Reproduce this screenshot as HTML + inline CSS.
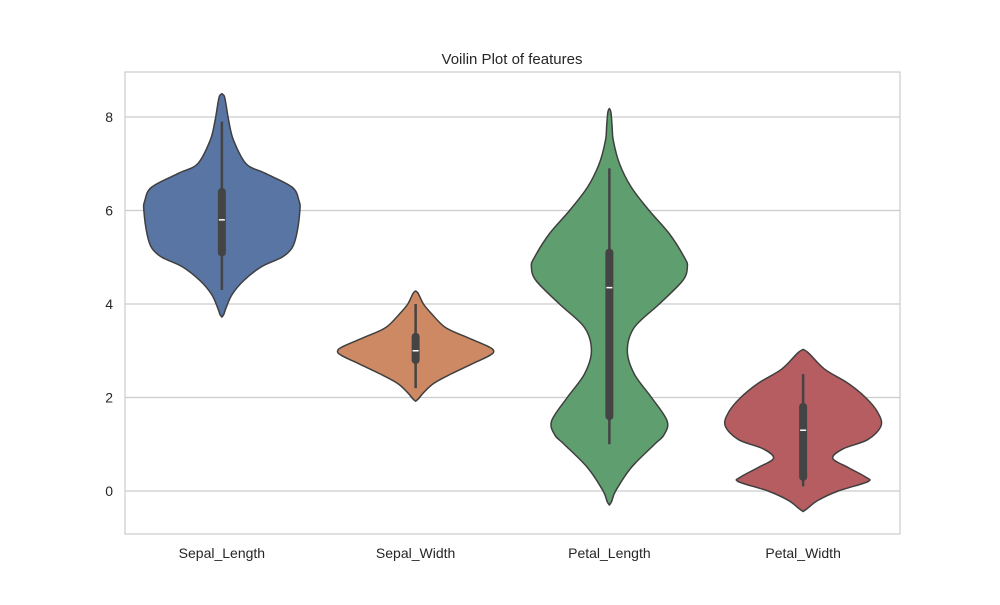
<!DOCTYPE html>
<html><head><meta charset="utf-8"><style>
body{margin:0;background:#fff}
svg text{font-family:"Liberation Sans",Arial,sans-serif;fill:#262626}
</style></head><body>
<svg id="chart" width="1000" height="600">
<rect x="0" y="0" width="1000" height="600" fill="#fff"/>
<g id="grid"></g>
<g id="violins"></g>
<rect x="125" y="72" width="775" height="462" fill="none" stroke="#cccccc" stroke-width="1.2"/>
<text x="512" y="64" font-size="15" text-anchor="middle">Voilin Plot of features</text>
<g id="yticks"></g>
<g id="xticks"></g>
</svg>
<script>
const categories=["Sepal_Length","Sepal_Width","Petal_Length","Petal_Width"];
const colors=["#5875a4","#cc8963","#5f9e6e","#b55d60"];
const yTicks=[0,2,4,6,8];
// density profiles: value levels and relative half-widths (0..1)
const levels0=[8.5,8.45,8.3,7.9,7.5,7.0,6.8,6.5,6.2,6.0,5.5,5.2,5.0,4.8,4.5,4.2,3.9,3.78,3.72];
const dens0=[0,0.03,0.05,0.09,0.15,0.31,0.55,0.9,0.99,1.0,0.96,0.9,0.77,0.51,0.28,0.13,0.05,0.025,0];
const levels1=[4.28,4.22,4.0,3.8,3.5,3.3,3.1,3.0,2.9,2.7,2.5,2.3,2.1,1.98,1.92];
const dens1=[0,0.035,0.1,0.2,0.38,0.64,0.92,1.0,0.95,0.7,0.45,0.23,0.1,0.04,0];
const levels2=[8.18,8.1,7.8,7.5,7.0,6.5,6.0,5.5,5.0,4.8,4.5,4.0,3.5,3.0,2.5,2.0,1.5,1.2,1.0,0.5,0,-0.22,-0.3];
const dens2=[0,0.02,0.035,0.05,0.13,0.28,0.51,0.77,0.96,1.0,0.94,0.64,0.32,0.23,0.32,0.54,0.74,0.7,0.58,0.28,0.08,0.03,0];
const levels3=[3.03,2.98,2.9,2.6,2.3,2.0,1.7,1.4,1.1,0.9,0.7,0.5,0.3,0.2,0,-0.2,-0.38,-0.44];
const dens3=[0,0.05,0.1,0.28,0.58,0.8,0.95,1.0,0.83,0.51,0.38,0.58,0.8,0.83,0.45,0.19,0.05,0];
const allLevels=[levels0,levels1,levels2,levels3];
const allDens=[dens0,dens1,dens2,dens3];
const q1=[5.1,2.8,1.6,0.3];
const q3=[6.4,3.3,5.1,1.8];
const medians=[5.8,3.0,4.35,1.3];
const whiskLo=[4.3,2.2,1.0,0.1];
const whiskHi=[7.9,4.0,6.9,2.5];

const NS="http://www.w3.org/2000/svg";
const X0=125,X1=900,Y0=491,PXU=46.75,HALF=78;
const y=v=>Y0-v*PXU;
const x=i=>X0+(X1-X0)*(i+0.5)/categories.length;
function mk(tag,attrs,parent){const e=document.createElementNS(NS,tag);for(const k in attrs)e.setAttribute(k,attrs[k]);parent.appendChild(e);return e;}
function smooth(pts){let d="M"+pts[0][0]+","+pts[0][1];for(let i=0;i<pts.length-1;i++){const p0=pts[Math.max(0,i-1)],p1=pts[i],p2=pts[i+1],p3=pts[Math.min(pts.length-1,i+2)];
const c1=[p1[0]+(p2[0]-p0[0])/6,p1[1]+(p2[1]-p0[1])/6],c2=[p2[0]-(p3[0]-p1[0])/6,p2[1]-(p3[1]-p1[1])/6];
d+=" C"+c1[0]+","+c1[1]+" "+c2[0]+","+c2[1]+" "+p2[0]+","+p2[1];}return d;}

const grid=document.getElementById('grid'),yt=document.getElementById('yticks'),xt=document.getElementById('xticks'),vg=document.getElementById('violins');
yTicks.forEach(t=>{
const l=mk('line',{x1:X0,x2:X1,y1:y(t),y2:y(t),stroke:'#cccccc','stroke-width':1.2},grid);


const tx=mk('text',{x:X0-12,y:y(t)+5,'font-size':14,'text-anchor':'end'},yt);tx.textContent=t;


});
categories.forEach((c,i)=>{
const cx=x(i);
const tx=mk('text',{x:cx,y:558,'font-size':14,'text-anchor':'middle'},xt);tx.textContent=c;


const L=allLevels[i],D=allDens[i];
const right=L.map((v,k)=>[cx+D[k]*HALF,y(v)]);
const left=L.map((v,k)=>[cx-D[k]*HALF,y(v)]).reverse();
const d=smooth(right)+" "+smooth(left).replace(/^M/,"L")+"Z";
const p=mk('path',{d:d,fill:colors[i],stroke:'#3f3f3f','stroke-width':1.5,'stroke-linejoin':'round'},vg);


const w=mk('line',{x1:cx,x2:cx,y1:y(whiskLo[i]),y2:y(whiskHi[i]),stroke:'#444','stroke-width':2.5},vg);


const b=mk('line',{x1:cx,x2:cx,y1:y(q1[i]),y2:y(q3[i]),stroke:'#444','stroke-width':8,'stroke-linecap':'round'},vg);


const m=mk('line',{x1:cx-3,x2:cx+3,y1:y(medians[i]),y2:y(medians[i]),stroke:'#fff','stroke-width':1.5},vg);


});
</script>
</body></html>
